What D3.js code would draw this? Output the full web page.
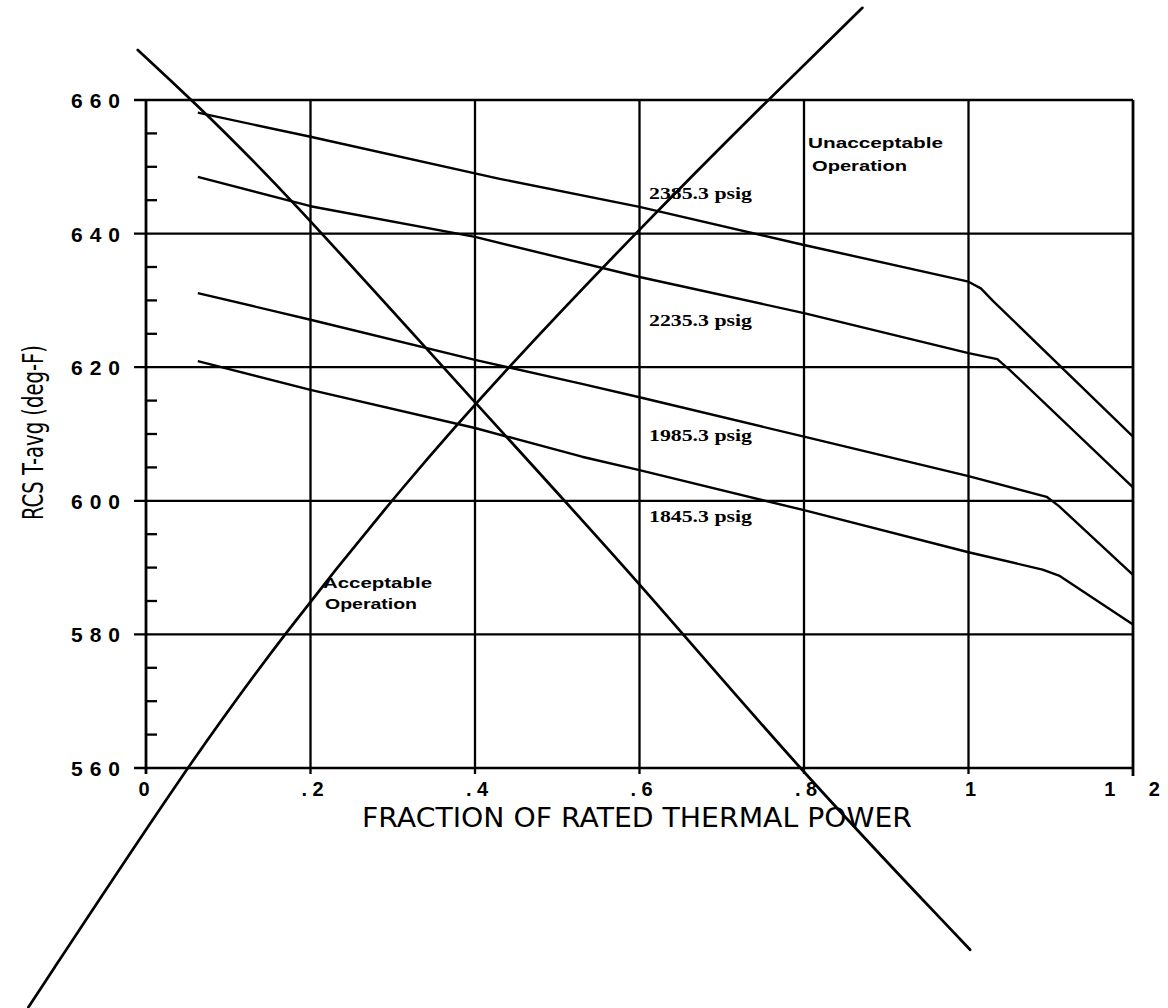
<!DOCTYPE html>
<meta charset="utf-8" />
<head>
  <style>
    body { margin: 0; background: #fff; }
    svg { display: block; }
    .grid line { stroke: #000; stroke-width: 2.3; }
    .curve { fill: none; stroke: #000; stroke-width: 2.4; stroke-linejoin: round; }
    .limit { fill: none; stroke: #000; stroke-width: 2.7; stroke-linecap: round; }
    .tick-y { font-family: "Liberation Sans", Arial, sans-serif; font-weight: bold; font-size: 21px; }
    .tick-x { font-family: "Liberation Sans", Arial, sans-serif; font-weight: bold; font-size: 20px; white-space: pre; }
    .psig { font-family: "Liberation Serif", "Times New Roman", serif; font-weight: bold; font-size: 16px; }
    .zone { font-family: "Liberation Sans", Arial, sans-serif; font-weight: bold; font-size: 14px; }
    .title { font-family: "DejaVu Sans", sans-serif; font-size: 26px; }
    .ytitle { font-family: "DejaVu Sans Condensed", "Liberation Sans Narrow", sans-serif; font-size: 28px; }
  </style>
  <script src="https://cdn.jsdelivr.net/npm/d3@7"></script>
</head>
<body>
<script>
  // ticks
  var xTicks = [0, 0.2, 0.4, 0.6, 0.8, 1, 1.2],
    xTickLabels = ["0", ". 2", ". 4", ". 6", ". 8", "1", "1      2"],
    yTicks = [560, 580, 600, 620, 640, 660],
    yMinor = [565, 570, 575, 585, 590, 595, 605, 610, 615, 625, 630, 635, 645, 650, 655];

  // isobars: fraction of rated thermal power vs T-avg
  var pressures = ["2385.3 psig", "2235.3 psig", "1985.3 psig", "1845.3 psig"];
  var frac2385 = [0.063, 0.2, 0.43, 0.6, 0.8, 1.0, 1.015, 1.03, 1.2],
    tavg2385 = [658.1, 654.5, 648.2, 644.0, 638.3, 632.8, 631.8, 629.9, 609.6];
  var frac2235 = [0.063, 0.2, 0.4, 0.6, 0.8, 1.0, 1.035, 1.05, 1.2],
    tavg2235 = [648.5, 644.1, 639.5, 633.5, 628.1, 622.1, 621.2, 619.6, 602.0];
  var frac1985 = [0.063, 0.2, 0.4, 0.53, 0.6, 0.8, 1.0, 1.095, 1.11, 1.2],
    tavg1985 = [631.1, 627.1, 621.1, 617.5, 615.5, 609.6, 603.7, 600.6, 599.2, 588.9];
  var frac1845 = [0.063, 0.2, 0.4, 0.53, 0.6, 0.8, 1.0, 1.09, 1.11, 1.2],
    tavg1845 = [620.9, 616.6, 610.9, 606.6, 604.6, 598.6, 592.3, 589.7, 588.8, 581.5];

  // the two crossing limit lines
  var fracDown = [-0.010, 0.055, 0.164, 0.399, 0.598, 0.792, 1.002],
    tavgDown = [667.5, 660.1, 647.0, 614.8, 588.1, 560.0, 532.8];
  var fracUp = [-0.143, 0.049, 0.167, 0.318, 0.440, 0.595, 0.756, 0.871],
    tavgUp = [524.2, 560.1, 580.0, 603.1, 620.0, 640.1, 660.0, 673.8];

  var width = 1168, height = 1008;

  var x = d3.scaleLinear().domain([0, 1.2]).range([146, 1133]);
  var y = d3.scaleLinear().domain([560, 660]).range([768, 100]);

  var svg = d3.select("body").append("svg")
    .attr("width", width)
    .attr("height", height);

  // horizontal grid, extends left past the axis as the major tick
  svg.append("g").attr("class", "grid")
    .selectAll("line")
    .data(yTicks)
    .enter().append("line")
    .attr("x1", x(0) - 12)
    .attr("x2", x(1.2))
    .attr("y1", function(d) { return y(d); })
    .attr("y2", function(d) { return y(d); })
    .style("stroke-width", function(d) { return d == 560 || d == 660 ? 2.6 : 2.3; });

  // vertical grid, short tick below the bottom line
  svg.append("g").attr("class", "grid")
    .selectAll("line")
    .data(xTicks)
    .enter().append("line")
    .attr("x1", function(d) { return x(d); })
    .attr("x2", function(d) { return x(d); })
    .attr("y1", y(660))
    .attr("y2", function(d) { return d == 1.2 ? y(560) + 8 : y(560) + 6; })
    .style("stroke-width", function(d) { return d == 0 || d == 1.2 ? 2.8 : 2.3; });

  // minor ticks inside the left axis
  svg.append("g").attr("class", "grid")
    .selectAll("line")
    .data(yMinor)
    .enter().append("line")
    .attr("x1", x(0))
    .attr("x2", x(0) + 11)
    .attr("y1", function(d) { return y(d); })
    .attr("y2", function(d) { return y(d); });

  // tick labels
  svg.append("g")
    .selectAll("text")
    .data(yTicks)
    .enter().append("text")
    .attr("class", "tick-y")
    .attr("x", 120)
    .attr("y", function(d) { return y(d) + 8; })
    .attr("text-anchor", "end")
    .attr("textLength", 49)
    .text(function(d) { return d; });

  svg.append("g")
    .selectAll("text")
    .data(xTicks)
    .enter().append("text")
    .attr("class", "tick-x")
    .attr("x", function(d) { return x(d) + (d == 0 ? -2 : d == 1.2 ? -1 : 2); })
    .attr("y", 796)
    .attr("text-anchor", "middle")
    .text(function(d, i) { return xTickLabels[i]; });

  // isobar curves
  var line = d3.line()
    .x(function(d) { return x(d[0]); })
    .y(function(d) { return y(d[1]); });

  var smooth = d3.line()
    .x(function(d) { return x(d[0]); })
    .y(function(d) { return y(d[1]); })
    .curve(d3.curveBasis);

  var isobars = [
    d3.zip(frac2385, tavg2385),
    d3.zip(frac2235, tavg2235),
    d3.zip(frac1985, tavg1985),
    d3.zip(frac1845, tavg1845)
  ];

  svg.append("g")
    .selectAll("path")
    .data(isobars)
    .enter().append("path")
    .attr("class", "curve")
    .attr("d", line);

  svg.append("path")
    .attr("class", "limit")
    .attr("d", smooth(d3.zip(fracDown, tavgDown)));

  svg.append("path")
    .attr("class", "limit")
    .attr("d", smooth(d3.zip(fracUp, tavgUp)));

  // isobar labels
  var psigY = [199, 326, 441, 522];
  svg.append("g")
    .selectAll("text")
    .data(pressures)
    .enter().append("text")
    .attr("class", "psig")
    .attr("x", 649)
    .attr("y", function(d, i) { return psigY[i]; })
    .attr("textLength", 103)
    .attr("lengthAdjust", "spacingAndGlyphs")
    .text(function(d) { return d; });

  // region labels
  function zone(txt, px, py, len) {
    svg.append("text")
      .attr("class", "zone")
      .attr("x", px)
      .attr("y", py)
      .attr("textLength", len)
      .attr("lengthAdjust", "spacingAndGlyphs")
      .text(txt);
  }
  zone("Unacceptable", 808, 148, 135);
  zone("Operation", 812, 171, 95);
  zone("Acceptable", 323, 588, 109);
  zone("Operation", 325, 609, 92);

  // axis titles
  svg.append("text")
    .attr("class", "title")
    .attr("x", 362)
    .attr("y", 827)
    .attr("textLength", 550)
    .attr("lengthAdjust", "spacingAndGlyphs")
    .text("FRACTION OF RATED THERMAL POWER");

  svg.append("text")
    .attr("class", "ytitle")
    .attr("transform", "translate(43,520) rotate(-90)")
    .attr("textLength", 175)
    .attr("lengthAdjust", "spacingAndGlyphs")
    .text("RCS T-avg (deg-F)");
</script>
</body>
